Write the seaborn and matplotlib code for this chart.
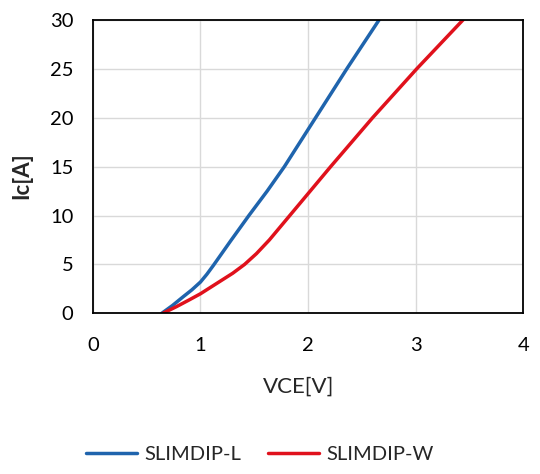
import matplotlib
matplotlib.use("Agg")
import matplotlib.pyplot as plt
import seaborn as sns
import pandas as pd

# data
vce_l = [0.64, 0.74, 0.84, 0.92, 1.00, 1.06, 1.12, 1.28, 1.45, 1.62, 1.78, 2.07, 2.36, 2.66]
ic_l = [0.0, 0.8, 1.7, 2.4, 3.2, 4.0, 4.9, 7.4, 10.0, 12.5, 15.0, 20.0, 25.0, 30.0]

vce_w = [0.65, 0.78, 0.90, 1.00, 1.10, 1.20, 1.30, 1.41, 1.52, 1.64, 1.83, 2.02, 2.21, 2.60, 3.01, 3.44]
ic_w = [0.0, 0.7, 1.4, 2.0, 2.7, 3.4, 4.1, 5.0, 6.1, 7.5, 10.0, 12.5, 15.0, 20.0, 25.0, 30.0]

names = ["SLIMDIP-L", "SLIMDIP-W"]
colors = ["#1f64ad", "#e0111c"]

df = pd.concat([
    pd.DataFrame({"VCE": vce_l, "Ic": ic_l, "type": names[0]}),
    pd.DataFrame({"VCE": vce_w, "Ic": ic_w, "type": names[1]}),
])

sns.set_style("white")
plt.rcParams["font.family"] = ["Lato", "DejaVu Sans"]

fig = plt.figure(figsize=(5.4, 4.74), dpi=100)
ax = fig.add_axes([0.172, 0.339, 0.797, 0.619])

sns.lineplot(data=df, x="VCE", y="Ic", hue="type", palette=colors,
             linewidth=2.5, sort=False, estimator=None, ax=ax, legend=False)
for ln in ax.lines:
    ln.set_solid_joinstyle("round")

ax.set_xlim(0, 4)
ax.set_ylim(0, 30)
ax.set_xticks([0, 1, 2, 3, 4])
ax.set_yticks([0, 5, 10, 15, 20, 25, 30])
ax.grid(True, color="#d9d9d9", linewidth=1)
ax.set_axisbelow(True)
for s in ax.spines.values():
    s.set_color("black")
    s.set_linewidth(1.3)
ax.tick_params(length=0, labelsize=14.5, colors="black")
ax.tick_params(axis="x", pad=17)
ax.tick_params(axis="y", pad=14)

ax.set_xlabel("VCE[V]", fontsize=16)
ax.set_ylabel("Ic[A]", fontsize=16, fontweight="bold")
ax.xaxis.set_label_coords(0.477, -0.215)
ax.yaxis.set_label_coords(-0.14, 0.47)

handles = [plt.Line2D([], [], color=c, linewidth=2.5) for c in colors]
fig.legend(handles, names, loc="lower center", bbox_to_anchor=(0.481, -0.015),
           ncol=2, frameon=False, fontsize=14.5, handlelength=2.55,
           columnspacing=1.3, handletextpad=0.35)

fig.savefig("out.png", dpi=100)
